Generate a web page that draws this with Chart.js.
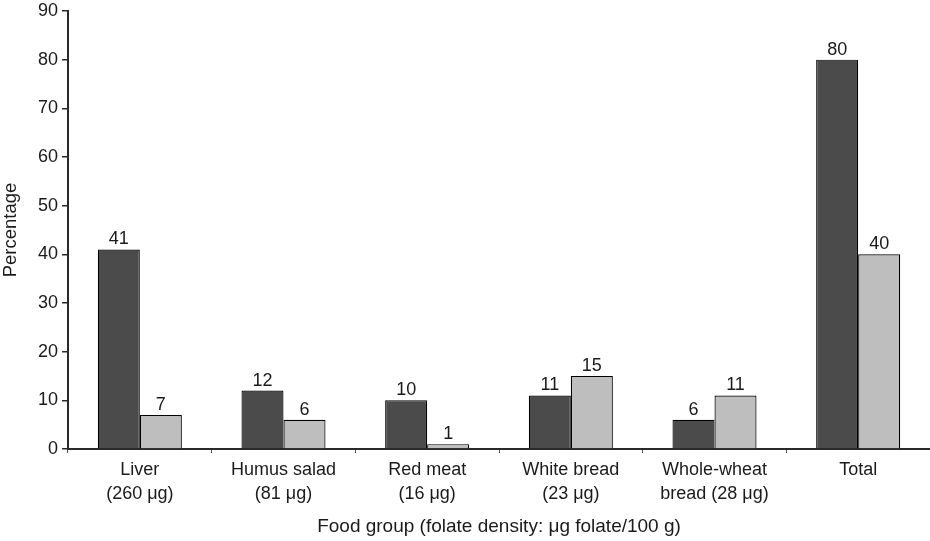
<!DOCTYPE html>
<html>
<head>
<meta charset="utf-8">
<script src="https://cdn.jsdelivr.net/npm/chart.js@4"></script>
<style>
html,body{margin:0;padding:0;background:#fff;}
#wrap{width:930px;height:541px;position:relative;}
</style>
</head>
<body>
<div id="wrap"><canvas id="c" width="930" height="541"></canvas></div>
<script>
const categories = [["Liver","(260 μg)"],["Humus salad","(81 μg)"],["Red meat","(16 μg)"],["White bread","(23 μg)"],["Whole-wheat","bread (28 μg)"],["Total"]];
const seriesDark = [41, 12, 10, 11, 6, 80];
const seriesLight = [7, 6, 1, 15, 11, 40];
const yTicks = [0,10,20,30,40,50,60,70,80,90];

const FONT = "'Liberation Sans', Arial, Helvetica, sans-serif";
Chart.defaults.font.family = FONT;
Chart.defaults.color = '#1a1a1a';

const valueLabels = {
  id: 'valueLabels',
  afterDatasetsDraw(chart) {
    const ctx = chart.ctx;
    ctx.save();
    ctx.font = '18px ' + FONT;
    ctx.fillStyle = '#1a1a1a';
    ctx.textAlign = 'center';
    ctx.textBaseline = 'alphabetic';
    chart.data.datasets.forEach((ds, i) => {
      chart.getDatasetMeta(i).data.forEach((bar, j) => {
        ctx.fillText(String(ds.data[j]), bar.x, bar.y - 5);
      });
    });
    ctx.restore();
  }
};

new Chart(document.getElementById('c'), {
  type: 'bar',
  data: {
    labels: categories,
    datasets: [
      {data: seriesDark, backgroundColor: '#4b4b4b', borderColor: '#000', borderWidth: 1.2, categoryPercentage: 0.585, barPercentage: 1},
      {data: seriesLight, backgroundColor: '#bebebe', borderColor: '#000', borderWidth: 1.2, categoryPercentage: 0.585, barPercentage: 1}
    ]
  },
  options: {
    responsive: false,
    animation: false,
    devicePixelRatio: 1,
    layout: {padding: {top: 11, right: 0, left: 0, bottom: 0}},
    plugins: {legend: {display: false}, tooltip: {enabled: false}},
    scales: {
      y: {
        min: 0, max: 90,
        afterBuildTicks(axis) { axis.ticks = yTicks.map(v => ({value: v})); },
        afterFit(axis) { axis.width = 68; axis.paddingTop = 0; axis.paddingBottom = 0; },
        border: {display: true, color: '#2a2a2a', width: 2},
        grid: {drawOnChartArea: false, drawTicks: true, tickLength: 6, color: '#2a2a2a', lineWidth: 1.5},
        ticks: {font: {size: 18}, color: '#1a1a1a', padding: 4},
        title: {display: true, text: 'Percentage', font: {size: 18.5}, color: '#1a1a1a', padding: {top: 0, bottom: 4}}
      },
      x: {
        afterFit(axis) { axis.height = 92; },
        border: {display: true, color: '#2a2a2a', width: 2},
        grid: {drawOnChartArea: false, drawTicks: true, tickLength: 4, color: '#555', lineWidth: 1, offset: true},
        ticks: {font: {size: 18, lineHeight: 1.28}, color: '#1a1a1a', padding: 6, maxRotation: 0, autoSkip: false},
        title: {display: true, text: 'Food group (folate density: μg folate/100 g)', font: {size: 19}, color: '#1a1a1a', padding: {top: 4, bottom: 3}}
      }
    }
  },
  plugins: [valueLabels]
});
</script>
</body>
</html>
